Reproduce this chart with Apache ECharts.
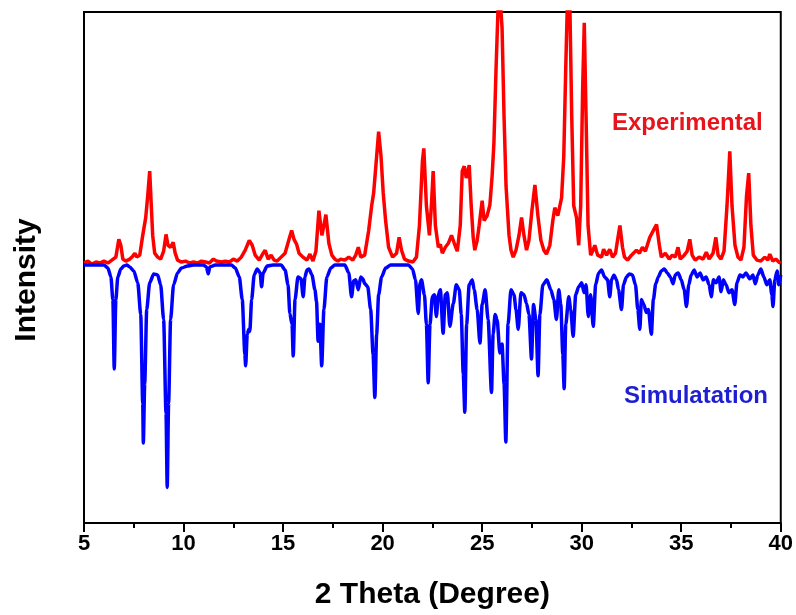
<!DOCTYPE html>
<html>
<head>
<meta charset="utf-8">
<title>XRD</title>
<script src="https://cdn.jsdelivr.net/npm/echarts@6/dist/echarts.min.js"></script>
<style>
  html, body { margin: 0; padding: 0; background: #fff; }
  #chart { width: 796px; height: 615px; }
</style>
</head>
<body>
<div id="chart"></div>
<script>
// x axis ticks
var xTicks = [5, 10, 15, 20, 25, 30, 35, 40]

// experimental pattern (2theta, intensity above baseline)
var expTheta = [
  5.0, 5.2, 5.4, 5.6, 5.8, 6.0, 6.2, 6.4, 6.6, 6.75, 6.85, 6.95, 7.1, 7.3, 7.45, 7.56, 7.65, 7.8, 7.95, 8.1,
  8.2, 8.3, 8.38, 8.45, 8.55, 8.7, 8.85, 9.0, 9.12, 9.22, 9.35, 9.48, 9.58, 9.7, 9.9, 10.1, 10.3, 10.5, 10.7, 10.9,
  11.1, 11.3, 11.5, 11.65, 11.9, 12.1, 12.3, 12.5, 12.7, 12.9, 13.1, 13.3, 13.45, 13.6, 13.8, 14.0, 14.1, 14.25, 14.4, 14.55,
  14.7, 14.9, 15.1, 15.3, 15.43, 15.55, 15.68, 15.8, 16.0, 16.2, 16.35, 16.5, 16.65, 16.8, 16.95, 17.05, 17.15, 17.3, 17.45, 17.6,
  17.75, 17.9, 18.1, 18.3, 18.5, 18.65, 18.78, 18.9, 19.1, 19.3, 19.45, 19.55, 19.7, 19.8, 19.92, 20.03, 20.15, 20.3, 20.5, 20.7,
  20.83, 20.95, 21.1, 21.3, 21.52, 21.7, 21.85, 22.0, 22.07, 22.2, 22.35, 22.45, 22.54, 22.65, 22.8, 22.9, 23.0, 23.15, 23.3, 23.46,
  23.6, 23.75, 23.9, 24.0, 24.1, 24.2, 24.35, 24.45, 24.55, 24.63, 24.75, 24.85, 25.0, 25.1, 25.25, 25.39, 25.5, 25.59, 25.7, 25.8,
  25.9, 26.0, 26.1, 26.2, 26.35, 26.45, 26.56, 26.7, 26.85, 26.98, 27.1, 27.23, 27.35, 27.5, 27.65, 27.8, 27.95, 28.1, 28.23, 28.4,
  28.55, 28.65, 28.8, 28.99, 29.1, 29.2, 29.3, 29.4, 29.5, 29.6, 29.74, 29.85, 29.95, 30.05, 30.13, 30.22, 30.32, 30.45, 30.55, 30.66,
  30.8, 31.0, 31.1, 31.25, 31.41, 31.55, 31.7, 31.8, 31.92, 32.05, 32.15, 32.3, 32.5, 32.6, 32.75, 32.9, 33.05, 33.2, 33.42, 33.6,
  33.76, 33.9, 34.0, 34.2, 34.4, 34.55, 34.7, 34.84, 34.95, 35.15, 35.3, 35.43, 35.55, 35.7, 35.9, 36.1, 36.26, 36.4, 36.6, 36.74,
  36.85, 37.0, 37.15, 37.3, 37.44, 37.55, 37.7, 37.85, 38.0, 38.15, 38.28, 38.39, 38.5, 38.62, 38.8, 39.0, 39.2, 39.35, 39.45, 39.6,
  39.75, 39.9, 40.0
]
var expIntensity = [
  2, 4, 1, 3, 2, 4, 2, 5, 8, 26, 20, 6, 4, 6, 9, 12, 8, 10, 30, 48,
  70, 95, 60, 30, 12, 8, 6, 14, 31, 20, 18, 23, 12, 5, 3, 4, 2, 3, 2, 4,
  3, 2, 6, 4, 3, 4, 3, 6, 4, 8, 15, 25, 20, 10, 5, 12, 15, 6, 10, 5,
  4, 8, 12, 26, 35, 26, 21, 12, 8, 5, 11, 4, 14, 55, 30, 40, 51, 22, 10, 6,
  4, 6, 5, 8, 5, 10, 18, 8, 10, 35, 60, 73, 110, 135, 110, 73, 45, 18, 8, 12,
  28, 15, 6, 4, 3, 8, 40, 105, 118, 60, 30, 60, 95, 40, 18, 21, 12, 18, 22, 30,
  22, 14, 40, 95, 100, 88, 101, 60, 28, 15, 25, 40, 65, 45, 50, 61, 90, 123, 200, 260,
  270, 240, 150, 80, 30, 15, 8, 15, 30, 48, 30, 15, 25, 55, 81, 50, 25, 15, 11, 20,
  45, 58, 50, 68, 110, 200, 280, 270, 150, 60, 48, 20, 60, 180, 245, 150, 40, 10, 14, 20,
  10, 8, 16, 10, 16, 8, 12, 25, 40, 18, 8, 5, 10, 8, 15, 12, 18, 14, 28, 35,
  41, 20, 8, 12, 6, 10, 8, 18, 6, 10, 14, 26, 10, 5, 8, 6, 13, 6, 12, 28,
  10, 6, 14, 60, 115, 60, 20, 8, 5, 18, 70, 93, 40, 10, 5, 4, 8, 5, 11, 4,
  6, 3, 2
]

// simulated pattern (2theta, intensity drawn below baseline)
var simTheta = [
  5.0, 6.0, 6.2, 6.35, 6.45, 6.52, 6.6, 6.7, 6.85, 7.0, 7.15, 7.3, 7.5, 7.7, 7.85, 7.95, 7.98, 8.05, 8.15, 8.3,
  8.5, 8.7, 8.85, 9.0, 9.12, 9.18, 9.25, 9.35, 9.5, 9.7, 9.9, 10.2, 10.5, 11.0, 11.15, 11.24, 11.32, 11.6, 12.4, 12.6,
  12.8, 12.95, 13.08, 13.12, 13.2, 13.28, 13.33, 13.42, 13.55, 13.7, 13.85, 13.92, 14.0, 14.2, 14.5, 14.9, 15.1, 15.25, 15.34, 15.45,
  15.51, 15.6, 15.75, 15.9, 16.01, 16.1, 16.2, 16.3, 16.45, 16.6, 16.68, 16.76, 16.85, 16.94, 17.05, 17.2, 17.4, 17.6, 18.1, 18.3,
  18.44, 18.55, 18.65, 18.78, 18.9, 19.0, 19.11, 19.25, 19.4, 19.52, 19.61, 19.7, 19.8, 19.95, 20.15, 20.4, 21.3, 21.5, 21.65, 21.79,
  21.88, 21.95, 22.1, 22.2, 22.29, 22.38, 22.5, 22.6, 22.7, 22.8, 22.9, 23.04, 23.15, 23.25, 23.38, 23.55, 23.7, 23.85, 23.95, 24.05,
  24.13, 24.22, 24.35, 24.5, 24.6, 24.75, 24.89, 25.0, 25.15, 25.3, 25.47, 25.55, 25.65, 25.75, 25.89, 26.0, 26.1, 26.19, 26.3, 26.45,
  26.6, 26.7, 26.81, 26.95, 27.1, 27.23, 27.35, 27.48, 27.58, 27.7, 27.81, 27.9, 28.05, 28.25, 28.45, 28.6, 28.73, 28.85, 28.95, 29.05,
  29.12, 29.2, 29.35, 29.45, 29.57, 29.7, 29.85, 30.0, 30.12, 30.22, 30.33, 30.45, 30.58, 30.7, 30.85, 31.0, 31.15, 31.3, 31.41, 31.5,
  31.62, 31.75, 31.85, 32.0, 32.1, 32.25, 32.4, 32.55, 32.7, 32.82, 32.92, 33.0, 33.12, 33.25, 33.35, 33.5, 33.6, 33.72, 33.85, 34.0,
  34.15, 34.3, 34.45, 34.59, 34.7, 34.85, 35.0, 35.15, 35.26, 35.38, 35.5, 35.65, 35.8, 35.95, 36.1, 36.25, 36.4, 36.51, 36.62, 36.75,
  36.9, 37.0, 37.12, 37.25, 37.4, 37.55, 37.69, 37.8, 37.95, 38.1, 38.25, 38.45, 38.6, 38.72, 38.85, 39.0, 39.15, 39.3, 39.45, 39.55,
  39.61, 39.7, 39.82, 39.9, 40.0
]
var simIntensity = [
  0, 0, -3, -12, -35, -105, -35, -12, -4, -1, 0, -2, -6, -18, -50, -140, -180, -120, -45, -18,
  -9, -10, -20, -55, -150, -225, -140, -55, -20, -8, -3, -1, 0, 0, -2, -9, -2, 0, 0, -3,
  -12, -35, -90, -102, -70, -65, -67, -35, -10, -4, -8, -22, -8, -1, 0, 0, -5, -20, -49, -60,
  -92, -35, -12, -14, -32, -12, -5, -4, -10, -25, -37, -77, -60, -102, -45, -12, -3, 0, 0, -8,
  -32, -16, -15, -25, -12, -14, -19, -22, -45, -90, -134, -70, -30, -12, -3, 0, 0, -4, -15, -49,
  -18, -15, -30, -60, -119, -60, -32, -30, -52, -30, -25, -69, -30, -28, -62, -39, -20, -25, -50, -110,
  -149, -60, -20, -15, -25, -45, -79, -40, -25, -55, -129, -70, -50, -55, -89, -80, -120, -179, -60, -25,
  -30, -45, -65, -28, -30, -39, -50, -95, -40, -55, -112, -50, -20, -15, -25, -35, -55, -25, -40, -90,
  -125, -60, -32, -45, -72, -30, -22, -18, -28, -20, -52, -30, -62, -20, -8, -5, -12, -15, -32, -15,
  -10, -15, -25, -45, -20, -12, -9, -10, -20, -45, -65, -35, -40, -48, -45, -70, -35, -19, -12, -6,
  -4, -8, -12, -19, -10, -8, -15, -25, -42, -20, -10, -5, -12, -8, -15, -12, -20, -32, -15, -18,
  -12, -27, -15, -20, -28, -25, -40, -18, -10, -12, -8, -14, -10, -19, -10, -4, -12, -20, -15, -30,
  -42, -15, -6, -20, -10
]

function pairs(xs, ys) {
  return xs.map(function(x, i) { return [x, ys[i]] })
}

var titleFont = 'bold 30px "Liberation Sans"'
var chart = echarts.init(document.getElementById('chart'))

chart.setOption({
  animation: false,
  grid: {
    left: 84, right: 14, top: 12, bottom: 86,
    show: true, borderColor: '#000', borderWidth: 2
  },
  xAxis: {
    type: 'value',
    min: xTicks[0],
    max: xTicks[xTicks.length - 1],
    interval: 5,
    name: '2 Theta (Degree)',
    nameLocation: 'middle',
    nameGap: 57,
    nameTextStyle: { fontFamily: 'Liberation Sans', fontWeight: 'bold', fontSize: 30, color: '#000' },
    axisLine: { onZero: false, lineStyle: { color: '#000', width: 2 } },
    axisTick: { inside: false, length: 9, lineStyle: { color: '#000', width: 2 } },
    minorTick: { show: true, splitNumber: 2, length: 5, lineStyle: { color: '#000', width: 2 } },
    axisLabel: { margin: 10, fontFamily: 'Liberation Sans', fontWeight: 'bold', fontSize: 22, color: '#000' },
    splitLine: { show: false }
  },
  yAxis: {
    type: 'value',
    min: -261,
    max: 256,
    axisLine: { show: true, onZero: false, lineStyle: { color: '#000', width: 2 } },
    axisTick: { show: false },
    axisLabel: { show: false },
    splitLine: { show: false }
  },
  graphic: [
    {
      // y axis title, sits a little below the plot centre in the original
      type: 'text', x: 27, y: 280, rotation: Math.PI / 2,
      style: { text: 'Intensity', fill: '#000', font: titleFont, align: 'center', verticalAlign: 'middle' }
    },
    {
      type: 'text', left: 612, top: 111,
      style: { text: 'Experimental', fill: '#e8141c', font: 'bold 24px "Liberation Sans"' }
    },
    {
      type: 'text', left: 624, top: 384,
      style: { text: 'Simulatation', fill: '#1f1fd2', font: 'bold 24px "Liberation Sans"' }
    }
  ],
  series: [
    {
      name: 'Experimental',
      type: 'line',
      data: pairs(expTheta, expIntensity),
      showSymbol: false,
      lineStyle: { color: '#ff0000', width: 3.5 },
      z: 2
    },
    {
      name: 'Simulatation',
      type: 'line',
      data: pairs(simTheta, simIntensity),
      showSymbol: false,
      smooth: 0.25,
      smoothMonotone: 'x',
      lineStyle: { color: '#0000ff', width: 3.5 },
      z: 3
    }
  ]
})
</script>
</body>
</html>
